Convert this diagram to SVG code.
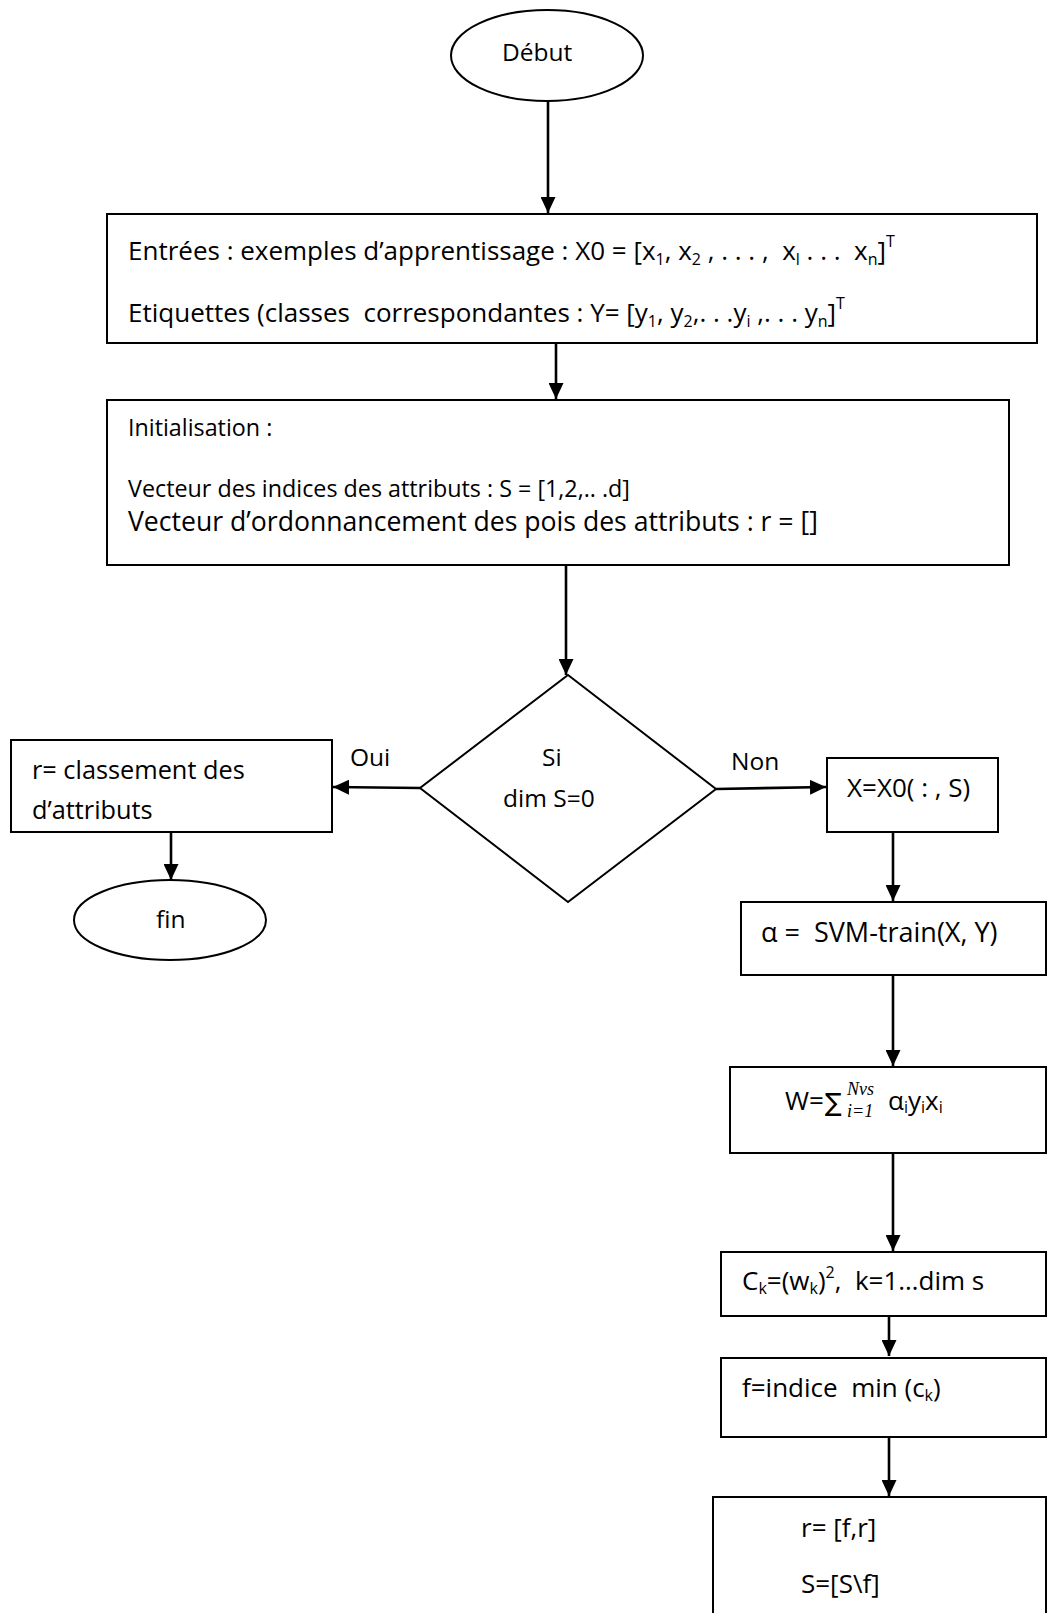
<svg xmlns="http://www.w3.org/2000/svg" width="1047" height="1613" viewBox="0 0 1047 1613">
<defs>
<style>
.n{fill:#fff;stroke:#000;stroke-width:2}
.c{fill:none;stroke:#000;stroke-width:2.6}
text{font-family:"Open Sans","Liberation Sans",sans-serif;font-size:26px;fill:#000;white-space:pre}
.l{font-size:24.5px}
.sm{font-size:23.3px}
.sb{font-size:16px}
.m{font-family:"Liberation Serif","DejaVu Serif",serif;font-style:italic;font-size:18px}
.sig{font-family:"DejaVu Sans",sans-serif;font-size:25px}
</style>
<marker id="ah" viewBox="0 0 16 15" refX="16" refY="7.5" markerWidth="16" markerHeight="15" markerUnits="userSpaceOnUse" orient="auto">
<path d="M0,0 L16,7.5 L0,15 z" fill="#000"/>
</marker>
</defs>
<rect width="1047" height="1613" fill="#fff"/>

<g id="connectors">
<path class="c" d="M548,101 V213" marker-end="url(#ah)"/>
<path class="c" d="M556,344 V399" marker-end="url(#ah)"/>
<path class="c" d="M566,565 V675" marker-end="url(#ah)"/>
<path class="c" d="M420,788 L333,787" marker-end="url(#ah)"/>
<path class="c" d="M716,789 L826,787" marker-end="url(#ah)"/>
<path class="c" d="M171,832 V880" marker-end="url(#ah)"/>
<path class="c" d="M893,832 V901" marker-end="url(#ah)"/>
<path class="c" d="M893,975 V1066" marker-end="url(#ah)"/>
<path class="c" d="M893,1153 V1251" marker-end="url(#ah)"/>
<path class="c" d="M889,1316 V1356" marker-end="url(#ah)"/>
<path class="c" d="M889,1437 V1496" marker-end="url(#ah)"/>
<text class="l" x="350" y="766">Oui</text>
<text class="l" x="731" y="770">Non</text>
</g>

<g id="debut">
<ellipse class="n" cx="547" cy="55.5" rx="96" ry="45.5"/>
<text class="l" x="502" y="61">Début</text>
</g>

<g id="entrees">
<rect class="n" x="107" y="214" width="930" height="129"/>
<text x="128" y="260">Entrées : exemples d’apprentissage : X0 = [x<tspan class="sb" dy="5">1</tspan><tspan dy="-5">, x</tspan><tspan class="sb" dy="5">2</tspan><tspan dy="-5"> , . . . ,  x</tspan><tspan class="sb" dy="5">l</tspan><tspan dy="-5"> . . .  x</tspan><tspan class="sb" dy="5">n</tspan><tspan dy="-5">]</tspan><tspan class="sb" dy="-13">T</tspan></text>
<text x="128" y="322">Etiquettes (classes  correspondantes : Y= [y<tspan class="sb" dy="5">1</tspan><tspan dy="-5">, y</tspan><tspan class="sb" dy="5">2</tspan><tspan dy="-5">,. . .y</tspan><tspan class="sb" dy="5">i</tspan><tspan dy="-5"> ,. . . y</tspan><tspan class="sb" dy="5">n</tspan><tspan dy="-5">]</tspan><tspan class="sb" dy="-13">T</tspan></text>
</g>

<g id="init">
<rect class="n" x="107" y="400" width="902" height="165"/>
<text class="sm" x="128" y="436">Initialisation :</text>
<text class="sm" x="128" y="497">Vecteur des indices des attributs : S = [1,2,.. .d]</text>
<text x="128" y="531" style="font-size:26.6px">Vecteur d’ordonnancement des pois des attributs : r = []</text>
</g>

<g id="decision">
<polygon class="n" points="568,675 716,789 568,902 420,788"/>
<text class="l" x="542" y="766">Si</text>
<text class="l" x="503" y="807">dim S=0</text>
</g>

<g id="classement">
<rect class="n" x="11" y="740" width="321" height="92"/>
<text x="32" y="779" style="font-size:25.3px">r= classement des</text>
<text x="32" y="819" style="font-size:25.3px">d’attributs</text>
</g>

<g id="fin">
<ellipse class="n" cx="170" cy="920" rx="96" ry="40"/>
<text class="l" x="156" y="928">fin</text>
</g>

<g id="xbox">
<rect class="n" x="827" y="758" width="171" height="74"/>
<text x="847" y="797">X=X0( : , S)</text>
</g>

<g id="svm">
<rect class="n" x="741" y="902" width="305" height="73"/>
<text x="761" y="942" style="font-size:27px">α =  SVM-train(X, Y)</text>
</g>

<g id="wsum">
<rect class="n" x="730" y="1067" width="316" height="86"/>
<text x="785" y="1110">W=</text>
<text class="sig" x="825" y="1111">∑</text>
<text class="m" x="847" y="1095">Nvs</text>
<text class="m" x="847" y="1117">i=1</text>
<text x="888" y="1110">α<tspan class="sb" dy="3">i</tspan><tspan dy="-3">y</tspan><tspan class="sb" dy="3">i</tspan><tspan dy="-3">x</tspan><tspan class="sb" dy="3">i</tspan></text>
</g>

<g id="ck">
<rect class="n" x="721" y="1252" width="325" height="64"/>
<text x="742" y="1290">C<tspan class="sb" dy="4">k</tspan><tspan dy="-4">=(w</tspan><tspan class="sb" dy="4">k</tspan><tspan dy="-4">)</tspan><tspan class="sb" dy="-12">2</tspan><tspan dy="12">,  k=1…dim s</tspan></text>
</g>

<g id="findice">
<rect class="n" x="721" y="1358" width="325" height="79"/>
<text x="742" y="1397">f=indice  min (c<tspan class="sb" dy="4">k</tspan><tspan dy="-4">)</tspan></text>
</g>

<g id="update">
<rect class="n" x="713" y="1497" width="333" height="130"/>
<text x="801" y="1537">r= [f,r]</text>
<text x="801" y="1593">S=[S\f]</text>
</g>
</svg>
